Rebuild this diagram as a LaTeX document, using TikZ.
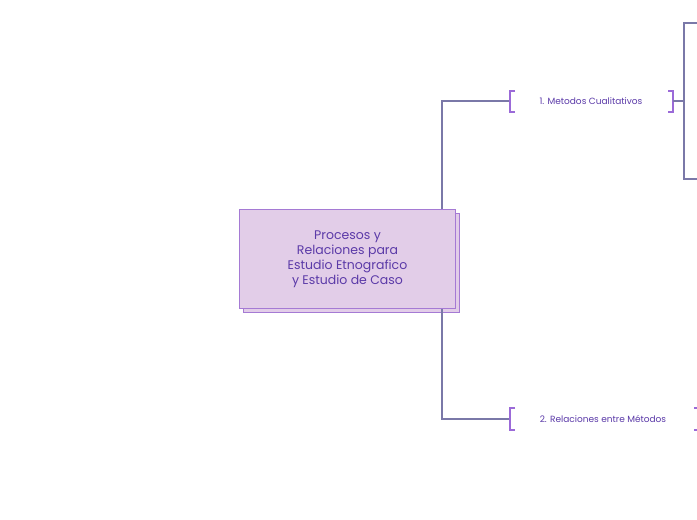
\documentclass[tikz,border=0pt]{standalone}
\usepackage{fontspec}
\setmainfont{Poppins}
\begin{document}
\begin{tikzpicture}[x=1pt,y=-1pt,
  conn/.style={draw=lineC,line width=1.2pt},
  brk/.style={draw=brkC,line width=1.6pt},
  lbl/.style={text=txtC,font=\fontsize{9}{11}\selectfont,inner sep=0pt}]
\definecolor{lineC}{HTML}{7A78A8}
\definecolor{brkC}{HTML}{9B6AD8}
\definecolor{txtC}{HTML}{5B3AA8}
\definecolor{boxF}{HTML}{E2CDE8}
\definecolor{boxD}{HTML}{A57AD4}
\useasboundingbox (0,0) rectangle (697,520);
% central node
\fill[boxF] (243,213) rectangle (459,312);
\draw[boxD,line width=1pt] (243,213) rectangle (459,312);
\node[draw=boxD,fill=boxF,line width=1pt,minimum width=216pt,minimum height=99pt,inner sep=0pt,anchor=north west,text=txtC,align=center,font=\fontsize{12.5}{15}\selectfont] (c) at (239,209) {Procesos y\\Relaciones para\\Estudio Etnografico\\y Estudio de Caso};
% labels
\node[lbl] (m1) at (591,101) {1. Metodos Cualitativos};
\node[lbl] (m2) at (603,419) {2. Relaciones entre Métodos};
\coordinate (j) at (442,209);
\draw[conn] (c.north -| j) -- (442,101) -- (510,101);
\draw[conn] (c.south -| j) -- (442,419) -- (510,419);
% brackets
\draw[brk] (515,91) -- (510,91) -- (510,112) -- (515,112);
\draw[brk] (668,91) -- (673,91) -- (673,112) -- (668,112);
\draw[brk] (515,408) -- (510,408) -- (510,430) -- (515,430);
\draw[brk] (694,408) -- (697,408);
\draw[brk] (694,430) -- (697,430);
% right connector
\draw[conn] (673,101) -- (684,101);
\draw[conn] (697,23) -- (684,23) -- (684,179) -- (697,179);
\end{tikzpicture}
\end{document}
